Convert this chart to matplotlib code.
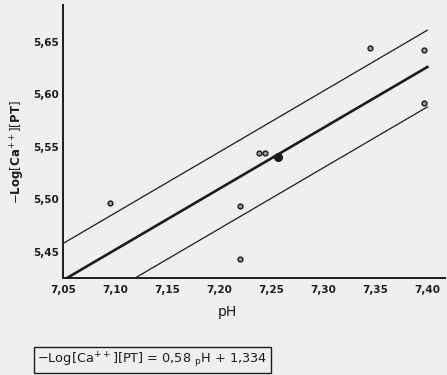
import matplotlib.pyplot as plt
import numpy as np

ph = [7.095, 7.22, 7.22, 7.238, 7.244, 7.345, 7.397, 7.397]
log_ca = [5.497, 5.494, 5.443, 5.544, 5.544, 5.644, 5.642, 5.592]
# mean point (filled dot)
mean_ph = [7.257]
mean_val = [5.540]

# regression line from the box: -Log[Ca++][PT] = 0,58 pH + 1,334
slope = 0.58
intercept = 1.334
upper_off = 0.035
lower_off = -0.038
line_x = [7.05, 7.40]

xticks = [7.05, 7.10, 7.15, 7.20, 7.25, 7.30, 7.35, 7.40]
yticks = [5.45, 5.50, 5.55, 5.60, 5.65]

bg = '#efefed'
ink = '#1c1c1c'

fig = plt.figure(figsize=(4.47, 3.75), dpi=100, facecolor=bg)
ax = fig.add_axes([63/447, 1-278/375, 382/447, 273/375], facecolor=bg)

lx = np.array(line_x)
reg = slope*lx + intercept
ax.plot(lx, reg, color=ink, lw=1.9)
ax.plot(lx, reg + upper_off, color=ink, lw=0.9)
ax.plot(lx, reg + lower_off, color=ink, lw=0.9)

ax.plot(ph, log_ca, 'o', ms=3.5, mfc='#9a9a9a', mec=ink, mew=1.0, ls='none')
ax.plot(mean_ph, mean_val, 'o', ms=5.5, color=ink, ls='none')

ax.set_xlim(7.05, 7.417)
ax.set_ylim(5.4252, 5.685)
for s in ['top', 'right']:
    ax.spines[s].set_visible(False)
for s in ['left', 'bottom']:
    ax.spines[s].set_color(ink)
    ax.spines[s].set_linewidth(1.4)

ax.set_xticks(xticks)
ax.set_xticklabels([('%.2f' % v).replace('.', ',') for v in xticks],
                   fontsize=7.5, fontweight='bold', color=ink)
ax.set_yticks(yticks)
ax.set_yticklabels([('%.2f' % v).replace('.', ',') for v in yticks],
                   fontsize=7.5, fontweight='bold', color=ink)
ax.tick_params(length=0)
ax.tick_params(axis='x', pad=5)
ax.tick_params(axis='y', pad=3)

ax.set_xlabel('pH', fontsize=10, color=ink)
ax.xaxis.set_label_coords(0.43, -0.10)
ax.set_ylabel(r'$-\mathbf{Log}\left[\mathbf{Ca}^{++}\right]\left[\mathbf{PT}\right]$',
              fontsize=8.5, color=ink)
ax.yaxis.set_label_coords(-0.094, 0.46)

fig.text(37/447, 1-360/375,
         r'$-\mathrm{Log}\left[\mathrm{Ca}^{++}\right]\left[\mathrm{PT}\right]$'
         + r' = 0,58 $_{\mathrm{p}}$H + 1,334',
         fontsize=9.3, color=ink, va='center', ha='left',
         bbox=dict(boxstyle='square,pad=0.25', fc=bg, ec=ink, lw=1.0))

fig.savefig('out.png', dpi=100, facecolor=bg)
